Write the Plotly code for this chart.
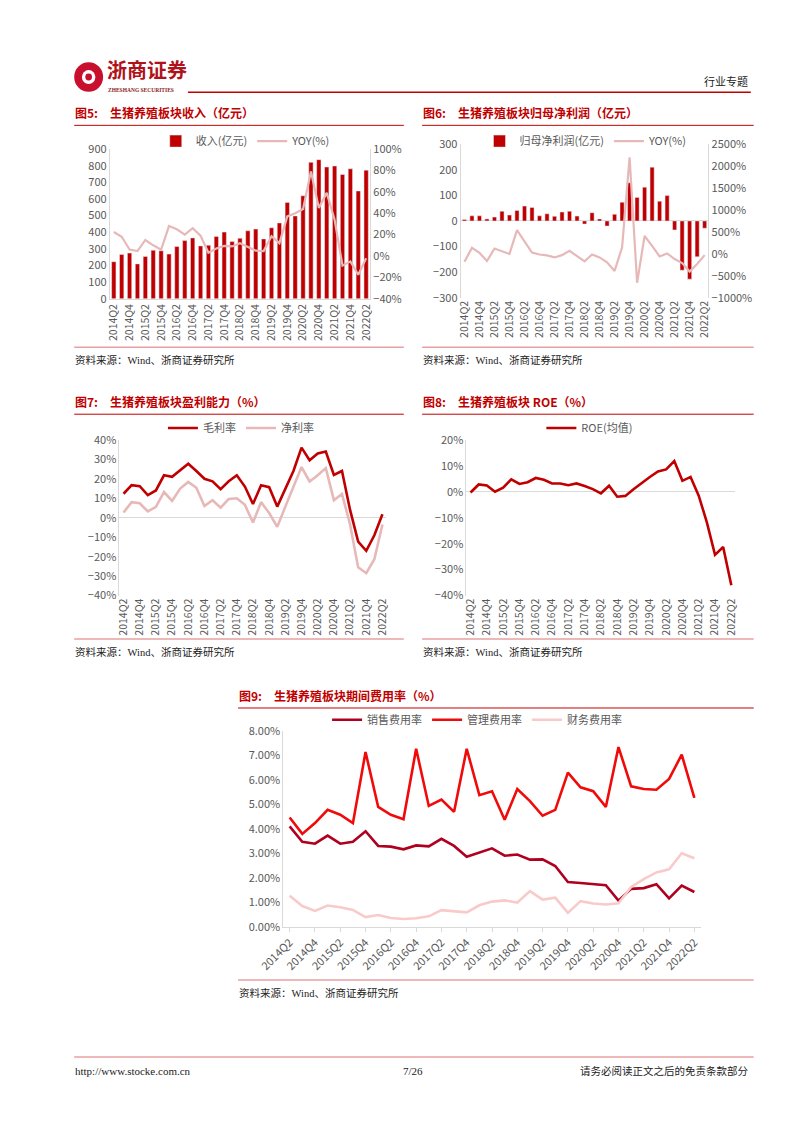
import plotly.graph_objects as go

# ---------------- data ----------------
quarters = ["2014Q2", "2014Q3", "2014Q4", "2015Q1", "2015Q2", "2015Q3", "2015Q4",
            "2016Q1", "2016Q2", "2016Q3", "2016Q4", "2017Q1", "2017Q2", "2017Q3",
            "2017Q4", "2018Q1", "2018Q2", "2018Q3", "2018Q4", "2019Q1", "2019Q2",
            "2019Q3", "2019Q4", "2020Q1", "2020Q2", "2020Q3", "2020Q4", "2021Q1",
            "2021Q2", "2021Q3", "2021Q4", "2022Q1", "2022Q2"]
tick_quarters = quarters[::2]

revenue = [223, 267, 275, 210, 255, 292, 289, 269, 314, 350, 366, 318, 322, 375, 401,
           344, 364, 409, 419, 360, 427, 456, 579, 498, 619, 820, 836, 792, 798, 747,
           781, 648, 773]
revenue_yoy = [22.5, 18, 6, 4.6, 15, 10, 6, 28, 25, 20, 26, 19, 3, 7, 9.5, 9, 12, 8.6,
               5, 4.6, 18.5, 12, 37, 40, 44, 79, 45, 59, 34, -9, -5, -17.5, -2]

net_profit = [6, 20, 20, 8, 15, 38, 23, 41, 58, 53, 20, 28, 18, 35, 38, 19, -12, 32, 8,
              -20, 26, 73, 149, 92, 132, 210, 77, 99, -35, -192, -227, -140, -28]
net_profit_yoy = [-177, 137, 25, -162, 122, 70, 0, 541, 287, 32, -13, -35, -80, -28, 70,
                  -43, -170, -13, -80, -192, -387, 145, 2200, -656, 407, 182, -58, 10,
                  -117, -207, -402, -230, -28]

gross_margin = [12.3, 16.7, 16.2, 11.6, 14, 21.8, 21, 24.5, 27.7, 24, 20, 18.7, 14.7,
                18.7, 21.8, 16, 7, 16.7, 15.7, 5.7, 14.5, 24, 36, 29.5, 33, 34, 22, 24,
                4, -12.3, -17, -9, 1.8]
net_margin = [2.7, 8, 7.4, 3.2, 5.6, 13.2, 8.6, 15, 18.4, 15.4, 6, 9, 5.2, 9.6, 10, 6.6,
              -2.5, 8, 2.4, -4.7, 5.7, 15.5, 26, 18.6, 21.8, 25.5, 9, 12.2, -3.5, -25.5,
              -28.5, -21.3, -3.5]

roe = [-0.3, 2.8, 2.4, 0, 1.6, 4.8, 3, 3.7, 5.3, 4.6, 3.2, 3.2, 2.5, 3.2, 2.2, 1, -0.6,
       2.3, -1.9, -1.6, 1, 3.4, 5.7, 7.8, 8.6, 11.8, 4.2, 5.7, -1.5, -11.8, -24.3,
       -21.3, -36]

selling_exp = [4.10, 3.47, 3.39, 3.72, 3.39, 3.47, 3.90, 3.30, 3.27, 3.16, 3.32, 3.28,
               3.59, 3.30, 2.86, 3.03, 3.20, 2.90, 2.95, 2.74, 2.75, 2.48, 1.83, 1.79,
               1.76, 1.70, 1.07, 1.55, 1.58, 1.74, 1.16, 1.68, 1.42]
admin_exp = [4.46, 3.79, 4.23, 4.77, 4.57, 4.23, 7.13, 4.89, 4.57, 4.39, 7.26, 4.93,
             5.19, 4.69, 7.26, 5.37, 5.53, 4.37, 5.62, 5.13, 4.53, 4.77, 6.29, 5.69,
             5.53, 4.89, 7.33, 5.73, 5.62, 5.59, 6.03, 7.02, 5.26]
finance_exp = [1.27, 0.85, 0.65, 0.87, 0.80, 0.69, 0.40, 0.48, 0.36, 0.32, 0.35, 0.43,
               0.68, 0.65, 0.59, 0.88, 1.03, 1.08, 0.99, 1.46, 1.11, 1.19, 0.57, 1.05,
               0.95, 0.91, 0.96, 1.63, 1.95, 2.22, 2.35, 3.00, 2.80]

# ---------------- styling ----------------
W, H = 802, 1133
RED = "#C00000"
PINK = "#E6B9B8"
SELL = "#B00020"
ADMIN = "#F00A0A"
FIN = "#F9CACA"
GRAY = "#595959"
AXIS = "#D9D9D9"
SRC_LINE = "#E8A0A5"
FONT = "Noto Sans CJK SC, Noto Sans, sans-serif"
SERIF = "Liberation Serif, Noto Sans CJK SC, serif"


def px(x):
    return x / W


def py(y):
    return 1 - y / H


def dom_x(a, b):
    return [px(a), px(b)]


def dom_y(top, bottom):
    return [py(bottom), py(top)]


fig = go.Figure()

# ---- Chart 5 ----
fig.add_trace(go.Bar(x=quarters, y=revenue, name="收入(亿元)", marker_color=RED,
                     xaxis="x", yaxis="y", legend="legend"))
fig.add_trace(go.Scatter(x=quarters, y=[v / 100 for v in revenue_yoy], name="YOY(%)",
                         mode="lines", line=dict(color=PINK, width=2.2),
                         xaxis="x", yaxis="y2", legend="legend"))

# ---- Chart 6 ----
fig.add_trace(go.Bar(x=quarters, y=net_profit, name="归母净利润(亿元)", marker_color=RED,
                     xaxis="x2", yaxis="y3", legend="legend2"))
fig.add_trace(go.Scatter(x=quarters, y=net_profit_yoy, name="YOY(%)", mode="lines",
                         line=dict(color=PINK, width=2.2),
                         xaxis="x2", yaxis="y4", legend="legend2"))

# ---- Chart 7 ----
fig.add_trace(go.Scatter(x=quarters, y=[v / 100 for v in gross_margin], name="毛利率",
                         mode="lines", line=dict(color=RED, width=2.6),
                         xaxis="x3", yaxis="y5", legend="legend3"))
fig.add_trace(go.Scatter(x=quarters, y=[v / 100 for v in net_margin], name="净利率",
                         mode="lines", line=dict(color=PINK, width=2.6),
                         xaxis="x3", yaxis="y5", legend="legend3"))

# ---- Chart 8 ----
fig.add_trace(go.Scatter(x=quarters, y=[v / 100 for v in roe], name="ROE(均值)",
                         mode="lines", line=dict(color=RED, width=2.6),
                         xaxis="x4", yaxis="y6", legend="legend4"))

# ---- Chart 9 ----
fig.add_trace(go.Scatter(x=quarters, y=[v / 100 for v in selling_exp], name="销售费用率",
                         mode="lines", line=dict(color=SELL, width=2.6),
                         xaxis="x5", yaxis="y7", legend="legend5"))
fig.add_trace(go.Scatter(x=quarters, y=[v / 100 for v in admin_exp], name="管理费用率",
                         mode="lines", line=dict(color=ADMIN, width=2.6),
                         xaxis="x5", yaxis="y7", legend="legend5"))
fig.add_trace(go.Scatter(x=quarters, y=[v / 100 for v in finance_exp], name="财务费用率",
                         mode="lines", line=dict(color=FIN, width=2.6),
                         xaxis="x5", yaxis="y7", legend="legend5"))

ytick_font = dict(family=FONT, size=11, color=GRAY)


def xcat(domain, anchor, angle=-90, showline=True, ticks="", size=10.5):
    return dict(domain=domain, anchor=anchor, type="category",
                range=[-0.5, len(quarters) - 0.5],
                tickmode="array", tickvals=tick_quarters, ticktext=tick_quarters,
                tickangle=angle, tickfont=dict(family=FONT, size=size, color=GRAY),
                showgrid=False, showline=showline, linecolor=AXIS, linewidth=1,
                ticks=ticks, ticklen=4, tickcolor=AXIS, zeroline=False)


def yax(domain, anchor, rng, dtick, fmt=None, suffix="", side="left", overlaying=None,
        zeroline=False):
    d = dict(domain=domain, anchor=anchor, range=rng, dtick=dtick, tick0=rng[0],
             tickfont=ytick_font, showgrid=False, showline=True, linecolor=AXIS,
             linewidth=1, side=side, ticks="", zeroline=zeroline,
             zerolinecolor=AXIS, zerolinewidth=1)
    if fmt:
        d["tickformat"] = fmt
    if suffix:
        d["ticksuffix"] = suffix
    if overlaying:
        d["overlaying"] = overlaying
    return d


c5x, c5y = dom_x(87, 357), dom_y(142, 294)
c6x, c6y = dom_x(451, 708), dom_y(137, 293)
c7x, c7y = dom_x(97, 374), dom_y(437, 595)
c8x, c8y = dom_x(457, 736), dom_y(437, 595)
c9x, c9y = dom_x(267, 700), dom_y(732, 931)

fig.update_layout(
    xaxis=xcat(c5x, "y"),
    yaxis=yax(c5y, "x", [0, 900], 100),
    yaxis2=yax(c5y, "x", [-0.4, 1.0], 0.2, fmt=".0%", side="right", overlaying="y"),
    xaxis2=xcat(c6x, "y3", showline=False),
    yaxis3=yax(c6y, "x2", [-300, 300], 100, zeroline=True),
    yaxis4=yax(c6y, "x2", [-1000, 2500], 500, suffix="%", side="right", overlaying="y3"),
    xaxis3=xcat(c7x, "y5", showline=False),
    yaxis5=yax(c7y, "x3", [-0.4, 0.4], 0.1, fmt=".0%", zeroline=True),
    xaxis4=xcat(c8x, "y6", showline=False),
    yaxis6=yax(c8y, "x4", [-0.4, 0.2], 0.1, fmt=".0%", zeroline=True),
    xaxis5=xcat(c9x, "y7", angle=-45, ticks="outside", size=11),
    yaxis7=yax(c9y, "x5", [0, 0.08], 0.01, fmt=".2%"),
)
fig.update_layout(bargap=0.45)

legend_common = dict(orientation="h", xanchor="center", yanchor="middle",
                     font=dict(family=FONT, size=11, color=GRAY),
                     bgcolor="rgba(0,0,0,0)", itemwidth=30, tracegroupgap=0)
fig.update_layout(
    legend=dict(x=px(228), y=py(134), **legend_common),
    legend2=dict(x=px(581), y=py(134), **legend_common),
    legend3=dict(x=px(223), y=py(425), **legend_common),
    legend4=dict(x=px(585), y=py(425), **legend_common),
    legend5=dict(x=px(468), y=py(721), **legend_common),
)

shapes = []
annotations = []


def hline(x0, x1, y, color, width=1):
    shapes.append(dict(type="line", xref="paper", yref="paper", x0=px(x0), x1=px(x1),
                       y0=py(y), y1=py(y), line=dict(color=color, width=width)))


def text(x, y, s, size=11, color="#000", family=FONT, anchor="left", bold=False,
         yanchor="middle"):
    if bold:
        s = "<b>" + s + "</b>"
    annotations.append(dict(x=px(x), y=py(y), xref="paper", yref="paper", text=s,
                            showarrow=False, xanchor=anchor, yanchor=yanchor,
                            borderpad=0,
                            font=dict(size=size, color=color, family=family)))


# header
shapes.append(dict(type="circle", xref="paper", yref="paper", x0=px(50), x1=px(80),
                   y0=py(84), y1=py(54), fillcolor="#C8102E", line=dict(width=0)))
shapes.append(dict(type="circle", xref="paper", yref="paper", x0=px(58), x1=px(72),
                   y0=py(76), y1=py(62), fillcolor="white", line=dict(width=0)))
shapes.append(dict(type="circle", xref="paper", yref="paper", x0=px(61.5), x1=px(68.5),
                   y0=py(72.5), y1=py(65.5), fillcolor="#C8102E", line=dict(width=0)))
text(83, 77, "浙商证券", size=20, color="#B0121B", bold=True, yanchor="bottom")
text(84, 78.5, "ZHESHANG SECURITIES", size=5.5, color="#8B1A1A", family=SERIF,
     bold=True, yanchor="top")
hline(168, 752, 84.5, RED, 1.5)
text(750, 73, "行业专题", size=11, color="#222", anchor="right")

# titles
for x0, x1, y, num, title in [
    (50, 392, 105, "图5:", "生猪养殖板块收入（亿元）"),
    (411, 755, 105, "图6:", "生猪养殖板块归母净利润（亿元）"),
    (50, 392, 398, "图7:", "生猪养殖板块盈利能力（%）"),
    (411, 755, 398, "图8:", "生猪养殖板块 ROE（%）"),
    (220, 755, 696, "图9:", "生猪养殖板块期间费用率（%）"),
]:
    text(x0, y, num, size=12, color=RED, bold=True)
    text(x0 + 36, y, title, size=12, color=RED, bold=True)
    hline(x0, x1, y + 13, RED, 1)

# sources
for x0, x1, y in [(50, 392, 343), (411, 755, 343), (50, 392, 639), (411, 755, 639),
                  (220, 755, 985)]:
    hline(x0, x1, y, SRC_LINE, 1.5)
    text(x0, y + 13, "资料来源：Wind、浙商证券研究所", size=10.5, color="#222", family=SERIF)

# footer
hline(50, 755, 1063, SRC_LINE, 1.5)
text(50, 1077, "http://www.stocke.com.cn", size=11, color="#222", family=SERIF)
text(402, 1077, "7/26", size=11, color="#222", family=SERIF, anchor="center")
text(750, 1077, "请务必阅读正文之后的免责条款部分", size=10.5, color="#222", family=SERIF,
     anchor="right")

fig.update_layout(
    width=W, height=H, margin=dict(l=0, r=0, t=0, b=0),
    paper_bgcolor="white", plot_bgcolor="white",
    shapes=shapes, annotations=annotations,
    font=dict(family=FONT, color=GRAY),
)

fig.write_html("out.html")
